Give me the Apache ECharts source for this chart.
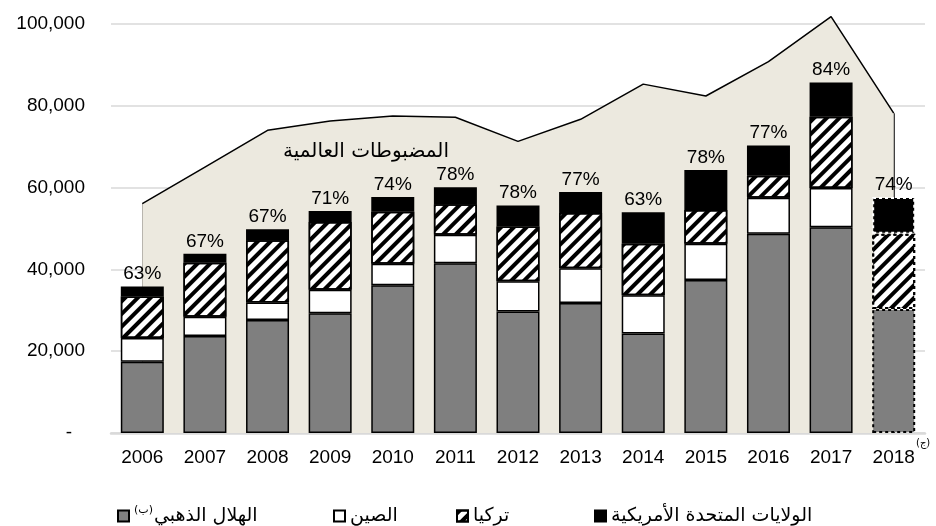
<!DOCTYPE html>
<html>
<head>
<meta charset="utf-8">
<title>المضبوطات</title>
<script src="https://cdn.jsdelivr.net/npm/echarts@6/dist/echarts.min.js"></script>
<style>
  html, body { margin: 0; padding: 0; background: #fff; }
  #chart { width: 936px; height: 526px; }
</style>
</head>
<body>
<div id="chart"></div>
<script>
// سنوات
var years = ['2006', '2007', '2008', '2009', '2010', '2011', '2012', '2013', '2014', '2015', '2016', '2017', '2018'];
// المضبوطات العالمية (المساحة)
var globalSeizures = [56100, 65000, 74000, 76300, 77500, 77200, 71300, 76700, 85300, 82400, 90800, 101800, 78200];
// الأعمدة المكدسة
var goldenCrescent = [17400, 23700, 27600, 29300, 36100, 41500, 29700, 31800, 24300, 37400, 48700, 50300, 30300];
var china = [5800, 4700, 4300, 5700, 5300, 7000, 7400, 8500, 9400, 8900, 8800, 9600, null];
var turkey = [10200, 13200, 15200, 16600, 12700, 7400, 13400, 13500, 12600, 8200, 5400, 17400, 18400];
var usa = [2400, 2200, 2700, 2700, 3600, 4200, 5100, 5100, 7700, 9800, 7400, 8400, 9000];
var shareLabels = ['63%', '67%', '67%', '71%', '74%', '78%', '78%', '77%', '63%', '78%', '77%', '84%', '74%'];
var yTicks = { min: 0, max: 100000, step: 20000 };

var seriesNames = ['الهلال الذهبي', 'الصين', 'تركيا', 'الولايات المتحدة الأمريكية'];
var arabicFont = "'DejaVu Sans', sans-serif";
var latinFont = "'Liberation Sans', Arial, sans-serif";

// آخر سنة (2018) بحدود منقطة
function withLastDotted(values, borderColor) {
  return values.map(function (v, i) {
    if (i !== values.length - 1) return v;
    return {
      value: v,
      itemStyle: { borderType: [3, 3], borderColor: borderColor || '#000', borderWidth: 2 }
    };
  });
}

function barSeries(name, values, color, extra) {
  var s = {
    name: name,
    type: 'bar',
    stack: 'total',
    barWidth: 43,
    z: 3,
    data: values,
    itemStyle: { color: color, borderColor: '#000', borderWidth: 1.5 }
  };
  for (var k in extra) s[k] = extra[k];
  return s;
}

var hatch = {
  symbol: 'rect',
  symbolSize: 1,
  color: '#000',
  dashArrayX: [1, 0],
  dashArrayY: [4, 5],
  rotation: -Math.PI / 4
};

function legendFor(name, left) {
  return {
    data: [name],
    left: left,
    top: 500,
    icon: 'rect',
    itemWidth: 11,
    itemHeight: 11,
    itemGap: 4,
    selectedMode: false,
    textStyle: {
      fontFamily: arabicFont,
      fontSize: 19,
      lineHeight: 22,
      color: '#000',
      rich: {
        sup: { fontFamily: arabicFont, fontSize: 11, lineHeight: 22, verticalAlign: 'top', color: '#000', padding: [0, 1, 0, 0] },
        t: { fontFamily: arabicFont, fontSize: 19, lineHeight: 22, color: '#000' }
      }
    },
    formatter: function (n) {
      if (n === seriesNames[0]) return '{sup|(ب)}{t|' + n + '}';
      return n;
    }
  };
}

var chart = echarts.init(document.getElementById('chart'));

var turkeySeries = barSeries(seriesNames[2], withLastDotted(turkey), '#fff', {});
turkeySeries.itemStyle.decal = hatch;

var option = {
  backgroundColor: '#fff',
  animation: false,
  grid: { left: 111, right: 11, top: 24, bottom: 93 },
  legend: [
    legendFor(seriesNames[0], 112),
    legendFor(seriesNames[1], 328),
    legendFor(seriesNames[2], 451),
    legendFor(seriesNames[3], 589)
  ],
  xAxis: {
    type: 'category',
    data: years,
    axisTick: { show: false },
    axisLine: { lineStyle: { color: '#d9d9d9', width: 2.5 } },
    axisLabel: { color: '#000', fontFamily: latinFont, fontSize: 19, margin: 15 }
  },
  yAxis: {
    type: 'value',
    min: yTicks.min,
    max: yTicks.max,
    interval: yTicks.step,
    axisLine: { show: false },
    axisTick: { show: false },
    splitLine: { lineStyle: { color: '#d9d9d9', width: 1.5 } },
    axisLabel: {
      color: '#000',
      fontFamily: latinFont,
      fontSize: 19,
      margin: 26,
      formatter: function (v) {
        if (v === 0) return '{d|-}';
        return v.toLocaleString('en-US');
      },
      rich: { d: { fontFamily: latinFont, fontSize: 19, color: '#000', padding: [0, 13, 0, 0] } }
    }
  },
  graphic: [
    {
      type: 'text',
      x: 366, y: 152,
      style: {
        text: 'المضبوطات العالمية',
        fontFamily: arabicFont, fontSize: 20, fill: '#000',
        align: 'center', verticalAlign: 'middle'
      },
      z: 10
    },
    {
      type: 'text',
      x: 916, y: 438,
      style: { text: '(ج)', fontFamily: arabicFont, fontSize: 10, fill: '#000' },
      z: 10
    }
  ],
  series: [
    {
      name: 'المضبوطات العالمية',
      type: 'line',
      data: globalSeizures,
      symbol: 'none',
      clip: false,
      z: 1,
      lineStyle: { color: '#000', width: 1.5 },
      areaStyle: { color: '#ECE9DF', opacity: 1 },
      // الحافتان العموديتان للمساحة، خلف الأعمدة
      markLine: {
        z: 1,
        silent: true,
        symbol: 'none',
        label: { show: false },
        lineStyle: { color: '#000', width: 1.5, type: 'solid' },
        data: [
          [{ coord: [years[0], 0] }, { coord: [years[0], globalSeizures[0]] }],
          [{ coord: [years[years.length - 1], 0] }, { coord: [years[years.length - 1], globalSeizures[globalSeizures.length - 1]] }]
        ]
      }
    },
    barSeries(seriesNames[0], withLastDotted(goldenCrescent), '#7f7f7f', {}),
    barSeries(seriesNames[1], withLastDotted(china), '#fff', {}),
    turkeySeries,
    barSeries(seriesNames[3], withLastDotted(usa, '#fff'), '#000', {
      label: {
        show: true,
        position: 'top',
        distance: 3,
        color: '#000',
        fontFamily: latinFont,
        fontSize: 19,
        formatter: function (p) { return shareLabels[p.dataIndex]; }
      }
    })
  ]
};

chart.setOption(option);
</script>
</body>
</html>
